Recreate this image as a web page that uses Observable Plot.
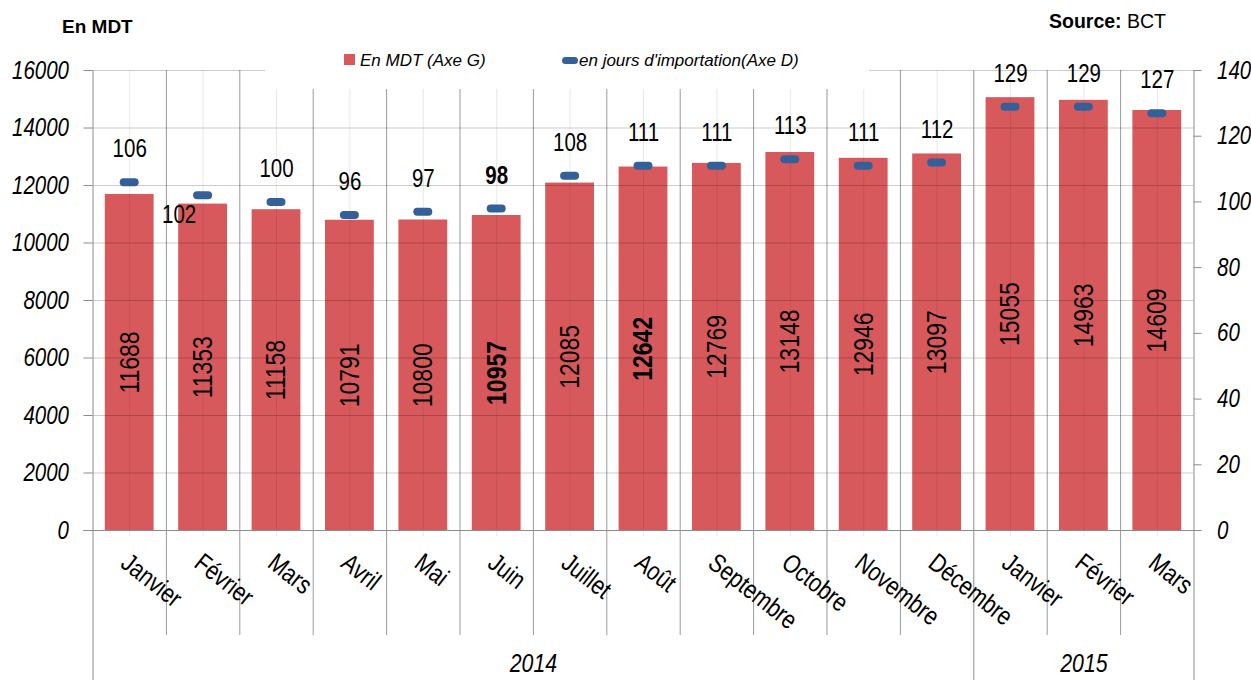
<!DOCTYPE html>
<html><head><meta charset="utf-8">
<script src="https://cdn.jsdelivr.net/npm/d3@7"></script>
<script src="https://cdn.jsdelivr.net/npm/@observablehq/plot@0.6"></script>
<style>
body{margin:0;background:#fff;font-family:"Liberation Sans",Arial,sans-serif;color:#000;}
#wrap{position:relative;width:1251px;height:680px;overflow:hidden;}
#chart{position:absolute;left:0;top:0;}
#title{position:absolute;left:62px;top:16px;font-size:19px;font-weight:bold;}
#source{position:absolute;left:1049px;top:10px;font-size:19.5px;}
#legend{position:absolute;left:265px;top:40px;width:604px;height:49px;background:#fff;z-index:2;font-size:17px;font-style:italic;}
.lg{position:absolute;top:11px;white-space:nowrap;}
.sw-bar{position:absolute;left:79px;top:14px;width:11px;height:11px;background:#d8595c;}
.sw-mk{position:absolute;left:297px;top:17px;width:16px;height:7px;border-radius:4px;background:#34609a;}
</style></head>
<body>
<div id="wrap">
  <div id="chart"></div>
  <div id="title">En MDT</div>
  <div id="source"><b>Source:</b> BCT</div>
  <div id="legend">
    <div class="sw-bar"></div><div class="lg" style="left:95px">En MDT (Axe G)</div>
    <div class="sw-mk"></div><div class="lg" style="left:314px">en jours d'importation(Axe D)</div>
  </div>
</div>
<script>
const periods = ["2014-01","2014-02","2014-03","2014-04","2014-05","2014-06","2014-07","2014-08","2014-09","2014-10","2014-11","2014-12","2015-01","2015-02","2015-03"];
const monthLabels = ["Janvier","Février","Mars","Avril","Mai","Juin","Juillet","Août","Septembre","Octobre","Novembre","Décembre","Janvier","Février","Mars"];
const reservesMDT = [11688,11353,11158,10791,10800,10957,12085,12642,12769,13148,12946,13097,15055,14963,14609];
const reservesDays = [106,102,100,96,97,98,108,111,111,113,111,112,129,129,127];
const yearLabels = ["2014","2015"];
const leftTicks = [0,2000,4000,6000,8000,10000,12000,14000,16000];
const rightTicks = [0,20,40,60,80,100,120,140];
const boldDayPeriods = ["2014-06"];
const boldValuePeriods = ["2014-06","2014-08"];
const belowLabelPeriods = ["2014-02"];

const NARROW = '"Liberation Sans Narrow","Arial Narrow","Liberation Sans",Arial,sans-serif';
const SQUEEZE = 0.82;
const ratio = 16000 / 140;

const data = periods.map((p, i) => ({i, period: p, year: p.slice(0, 4), month: monthLabels[i], mdt: reservesMDT[i], days: reservesDays[i]}));
const yearGroups = yearLabels.map(y => {
  const idx = data.filter(d => d.year === y).map(d => d.i);
  return {year: y, x1: d3.min(idx), x2: d3.max(idx) + 1};
});
const yearEdges = [0, ...yearGroups.map(g => g.x2)];
const boundaries = d3.range(1, data.length).filter(b => !yearEdges.includes(b));
const cx = d => d.i + 0.5;

const plot = Plot.plot({
  width: 1251, height: 680,
  marginLeft: 92.5, marginRight: 57.5, marginTop: 70, marginBottom: 150,
  x: {domain: [0, data.length], axis: null},
  y: {domain: [0, 16000], axis: null},
  style: {fontFamily: NARROW, background: "transparent", color: "#000"},
  marks: [
    Plot.rectY(data, {x1: "i", x2: d => d.i + 1, y: "mdt", fill: "#d8595c", insetLeft: 12.3, insetRight: 12.3}),
    Plot.ruleY(leftTicks.slice(1), {stroke: "#000", strokeOpacity: 0.2}),
    Plot.ruleX(data, {x: cx, y1: 16000, y2: 0, stroke: "#000", strokeOpacity: 0.09, insetBottom: -6}),
    Plot.ruleX(boundaries, {x: d => d, y1: 16000, y2: 0, stroke: "#000", strokeOpacity: 0.4, insetBottom: -105}),
    Plot.ruleX(yearEdges, {x: d => d, y1: 16000, y2: 0, stroke: "#8c8c8c", insetBottom: -150}),
    Plot.ruleY([0], {stroke: "#8c8c8c", insetLeft: -9, insetRight: -8}),
    // left axis ticks + labels
    Plot.ruleY(leftTicks, {y: d => d, x1: 0, x2: 0, insetLeft: -9, stroke: "#8c8c8c"}),
    Plot.axisY({anchor: "left", label: null, ticks: leftTicks, tickSize: 0, tickPadding: 24, tickFormat: d => String(d), fontSize: 25, fontStyle: "italic", fontFamily: NARROW}),
    // right axis ticks + labels
    Plot.ruleY(rightTicks, {y: d => d * ratio, x1: data.length, x2: data.length, insetRight: -8, stroke: "#8c8c8c"}),
    Plot.axisY({anchor: "right", label: null, ticks: rightTicks.map(t => t * ratio), tickSize: 0, tickPadding: 23, tickFormat: d => String(Math.round(d / ratio)), fontSize: 25, fontStyle: "italic", fontFamily: NARROW}),
    // day markers
    Plot.ruleY(data, {y: d => d.days * ratio, x1: cx, x2: cx, insetLeft: -5.5, insetRight: -5.5, stroke: "#34609a", strokeWidth: 8, strokeLinecap: "round"}),
    // day labels
    Plot.text(data.filter(d => !belowLabelPeriods.includes(d.period) && !boldDayPeriods.includes(d.period)), {x: cx, y: d => d.days * ratio, text: d => String(d.days), dy: -33, fontSize: 25}),
    Plot.text(data.filter(d => !belowLabelPeriods.includes(d.period) && boldDayPeriods.includes(d.period)), {x: cx, y: d => d.days * ratio, text: d => String(d.days), dy: -33, fontSize: 25, fontWeight: "bold"}),
    Plot.text(data.filter(d => belowLabelPeriods.includes(d.period)), {x: cx, y: d => d.days * ratio, text: d => String(d.days), dy: 20, dx: -24, fontSize: 25}),
    // value labels inside bars
    Plot.text(data.filter(d => !boldValuePeriods.includes(d.period)), {x: cx, y: d => d.mdt / 2, text: d => String(d.mdt), rotate: -90, fontSize: 28}),
    Plot.text(data.filter(d => boldValuePeriods.includes(d.period)), {x: cx, y: d => d.mdt / 2, text: d => String(d.mdt), rotate: -90, fontSize: 28, fontWeight: "bold"}),
    // month labels
    Plot.text(data, {x: cx, frameAnchor: "bottom", text: "month", rotate: 38, textAnchor: "start", lineAnchor: "top", dx: 1, dy: 21, fontSize: 26}),
    // year labels
    Plot.text(yearGroups, {x: d => (d.x1 + d.x2) / 2, frameAnchor: "bottom", text: "year", dy: 141, fontSize: 26, fontStyle: "italic"})
  ]
});

// Emulate Arial Narrow: compress every SVG text horizontally (along its own baseline) around its anchor.
plot.querySelectorAll("text").forEach(t => {
  const tr = t.getAttribute("transform") || "";
  t.setAttribute("transform", `${tr} scale(${SQUEEZE},1)`);
  const xa = t.getAttribute("x");
  if (xa !== null && /^-?[\d.]+$/.test(xa.trim())) t.setAttribute("x", (+xa) / SQUEEZE);
  t.querySelectorAll("tspan[x]").forEach(s => {
    const sx = s.getAttribute("x");
    if (/^-?[\d.]+$/.test(sx.trim())) s.setAttribute("x", (+sx) / SQUEEZE);
  });
});
document.getElementById("chart").appendChild(plot);
</script>
</body></html>
